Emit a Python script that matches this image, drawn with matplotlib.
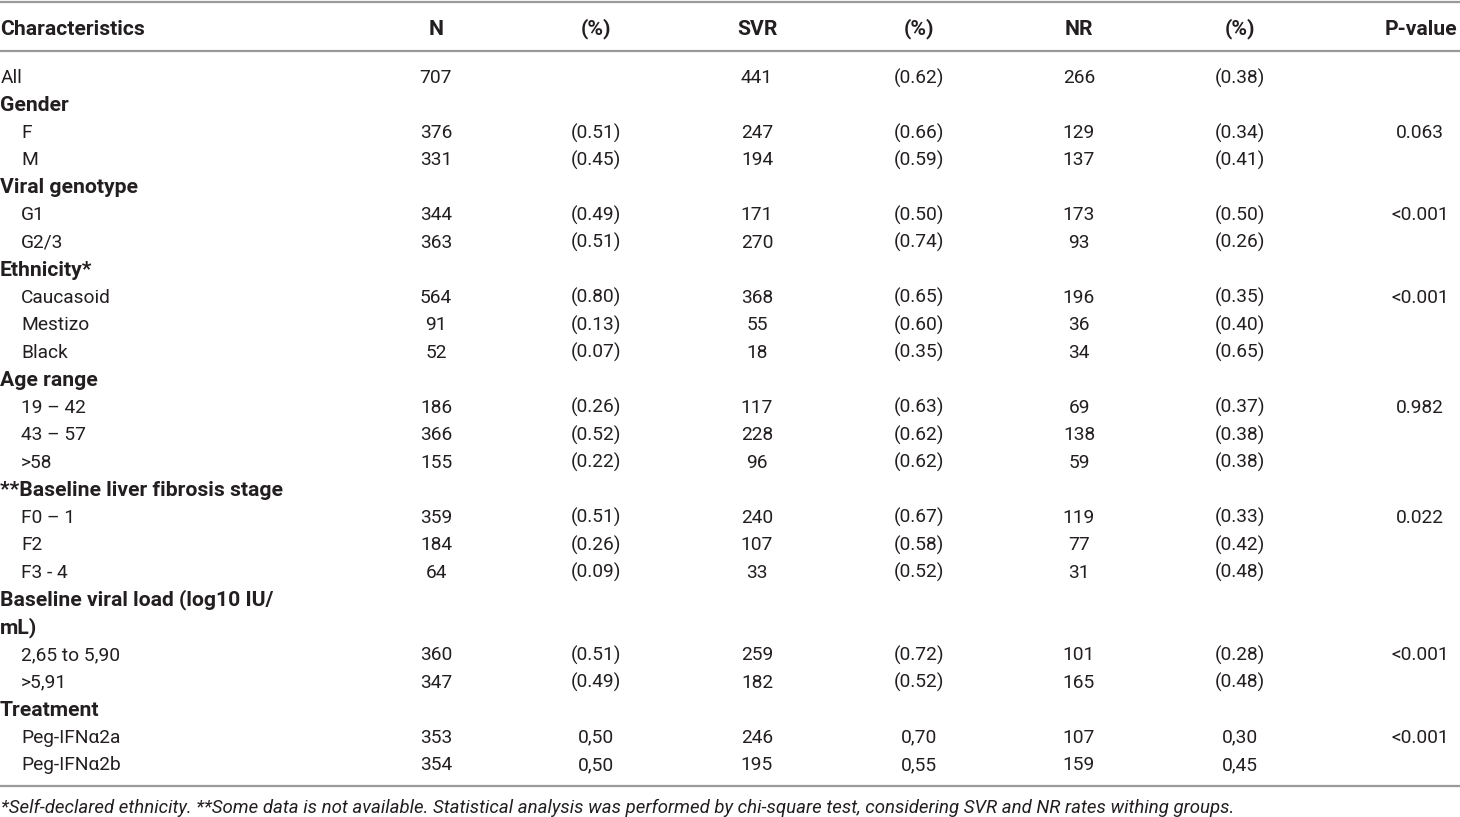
import matplotlib
matplotlib.use("Agg")
import matplotlib.pyplot as plt

plt.rcParams['font.family'] = ['Roboto', 'DejaVu Sans']

headers = ["Characteristics", "N", "(%)", "SVR", "(%)", "NR", "(%)", "P-value"]

labels = ["All", "Gender", "F", "M", "Viral genotype", "G1", "G2/3", "Ethnicity*",
          "Caucasoid", "Mestizo", "Black", "Age range", "19 – 42", "43 – 57", ">58",
          "**Baseline liver fibrosis stage", "F0 – 1", "F2", "F3 - 4",
          "Baseline viral load (log10 IU/", "mL)", "2,65 to 5,90", ">5,91",
          "Treatment", "Peg-IFNα2a", "Peg-IFNα2b"]
is_group = [False, True, False, False, True, False, False, True,
            False, False, False, True, False, False, False,
            True, False, False, False,
            True, True, False, False,
            True, False, False]

n_vals = ["707", "", "376", "331", "", "344", "363", "", "564", "91", "52", "",
          "186", "366", "155", "", "359", "184", "64", "", "", "360", "347", "", "353", "354"]
n_pct = ["", "", "(0.51)", "(0.45)", "", "(0.49)", "(0.51)", "", "(0.80)", "(0.13)", "(0.07)", "",
         "(0.26)", "(0.52)", "(0.22)", "", "(0.51)", "(0.26)", "(0.09)", "", "", "(0.51)", "(0.49)",
         "", "0,50", "0,50"]
svr_vals = ["441", "", "247", "194", "", "171", "270", "", "368", "55", "18", "",
            "117", "228", "96", "", "240", "107", "33", "", "", "259", "182", "", "246", "195"]
svr_pct = ["(0.62)", "", "(0.66)", "(0.59)", "", "(0.50)", "(0.74)", "", "(0.65)", "(0.60)", "(0.35)", "",
           "(0.63)", "(0.62)", "(0.62)", "", "(0.67)", "(0.58)", "(0.52)", "", "", "(0.72)", "(0.52)",
           "", "0,70", "0,55"]
nr_vals = ["266", "", "129", "137", "", "173", "93", "", "196", "36", "34", "",
           "69", "138", "59", "", "119", "77", "31", "", "", "101", "165", "", "107", "159"]
nr_pct = ["(0.38)", "", "(0.34)", "(0.41)", "", "(0.50)", "(0.26)", "", "(0.35)", "(0.40)", "(0.65)", "",
          "(0.37)", "(0.38)", "(0.38)", "", "(0.33)", "(0.42)", "(0.48)", "", "", "(0.28)", "(0.48)",
          "", "0,30", "0,45"]
p_vals = ["", "", "0.063", "", "", "<0.001", "", "", "<0.001", "", "", "",
          "0.982", "", "", "", "0.022", "", "", "", "", "<0.001", "", "", "<0.001", ""]

footnote = ("*Self-declared ethnicity. **Some data is not available. Statistical analysis was performed "
            "by chi-square test, considering SVR and NR rates withing groups.")

W, H = 1460, 817
fig = plt.figure(figsize=(W / 100, H / 100), dpi=100)
ax = fig.add_axes([0, 0, 1, 1])
ax.set_xlim(0, W)
ax.set_ylim(H, 0)
ax.axis('off')

txt_color = "#231f20"
line_color = "#9a9a9a"
fs = 13.8
fsb = 15.2
dy = 2

# rules
for y in [1.5, 51, 786]:
    ax.plot([0, W], [y, y], color=line_color, lw=1.6, solid_capstyle='butt')

# header
col_x = [436, 596, 757, 919, 1079, 1240]
hy = 27 + dy
ax.text(0, hy, headers[0], ha='left', va='center', fontsize=fsb, fontweight='bold', color=txt_color)
for x, h in zip(col_x, headers[1:7]):
    ax.text(x, hy, h, ha='center', va='center', fontsize=fsb, fontweight='bold', color=txt_color)
ax.text(1457, hy, headers[7], ha='right', va='center', fontsize=fsb, fontweight='bold', color=txt_color)

y0, step = 76, 27.48
cols = [n_vals, n_pct, svr_vals, svr_pct, nr_vals, nr_pct]
for i, lab in enumerate(labels):
    y = y0 + i * step + dy
    if is_group[i]:
        ax.text(0, y, lab, ha='left', va='center', fontsize=fsb, fontweight='bold', color=txt_color)
    else:
        ax.text(21 if i > 0 else 1, y, lab, ha='left', va='center', fontsize=fs, color=txt_color)
    for x, c in zip(col_x, cols):
        if c[i]:
            ax.text(x, y, c[i], ha='center', va='center', fontsize=fs, color=txt_color)
    if p_vals[i]:
        ax.text(1420, y, p_vals[i], ha='center', va='center', fontsize=fs, color=txt_color)

ax.text(1, 806 + dy, footnote, ha='left', va='center', fontsize=13.45, style='italic', color=txt_color)

fig.savefig("out.png", dpi=100)
